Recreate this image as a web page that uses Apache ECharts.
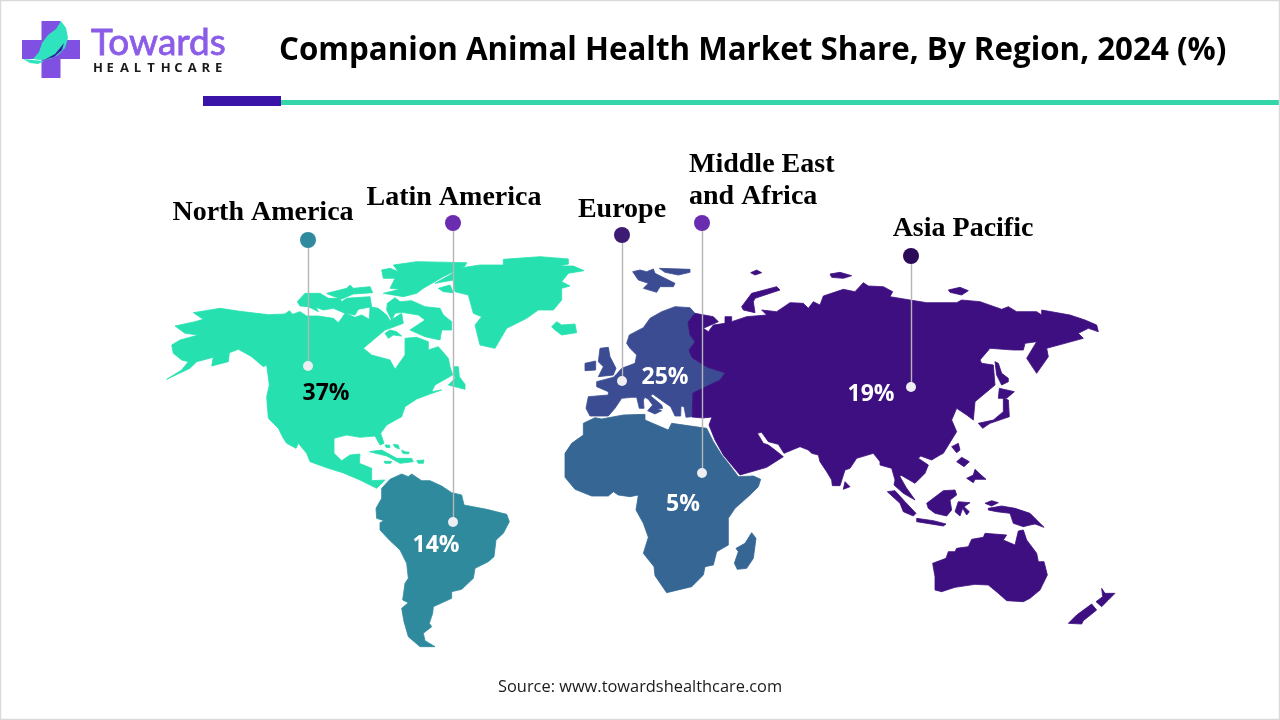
<!DOCTYPE html>
<html>
<head>
<meta charset="utf-8">
<title>Companion Animal Health Market Share</title>
<script src="https://cdn.jsdelivr.net/npm/echarts@6/dist/echarts.min.js"></script>
<style>
  html, body { margin: 0; padding: 0; background: #fff; }
  #chart { width: 1280px; height: 720px; }
</style>
</head>
<body>
<div id="chart"></div>
<script>
// values
const regionNames = ["North America", "Latin America", "Europe", "Middle East and Africa", "Asia Pacific"];
const regionShares = [37, 14, 25, 5, 19];
const regionLabels = ["North America", "Latin America", "Europe", "Middle East\nand Africa", "Asia Pacific"];

const titleText = "Companion Animal Health Market Share, By Region, 2024 (%)";
const sourceText = "Source: www.towardshealthcare.com";

const traced = (ox, oy, pts) => pts.map(([x, y]) => [ox + x / 3, -(oy + y / 3)]);

const northAmericaOutline = [
  [
    ...traced(160, 250, [[100,188],[180,175],[240,184],[290,190],[325,194],[375,192],[388,182]]),
    ...traced(290, 280, [[8,103],[30,95],[50,108],[85,108],[130,115],[145,128],[155,115],[165,100],[195,112],[215,105],[238,118],[240,80],[265,85],[290,105],[300,122],[335,100],[340,130],[300,145],[285,150],[220,205],[245,225],[300,240],[315,268],[345,225],[345,175],[380,172],[415,185],[415,210],[445,200]]),
    ...traced(160, 250, [[865,325],[870,350],[878,375],[825,405],[815,425],[845,420],[810,432],[770,447],[735,470],[725,500],[680,525],[662,550],[672,580],[660,585],[645,558],[600,562],[560,555],[522,565],[522,610],[545,632],[570,615],[600,612],[598,640],[635,655],[635,692],[675,690],[650,715],[600,690],[548,668],[505,655],[450,635],[440,610],[415,580],[408,595],[380,580],[370,565],[355,535],[325,505],[320,440],[328,405],[320,345],[310,350],[275,320],[235,298],[208,308],[205,335],[155,348],[160,322],[110,335],[90,355],[20,388],[65,360],[85,335],[65,330],[40,310],[35,285],[60,270],[115,255],[75,250],[45,228],[105,215],[130,208]]),
  ],
  traced(290, 280, [[22,65],[45,40],[90,40],[115,55],[150,55],[155,65],[170,55],[240,50],[245,80],[205,88],[195,105],[165,100],[130,85],[100,90],[78,82],[85,95],[55,80],[30,78]]),
  traced(290, 280, [[110,40],[170,25],[180,15],[190,25],[240,20],[248,38],[190,42],[155,57],[125,47]]),
  traced(290, 280, [[290,90],[292,70],[315,53],[330,65],[365,62],[405,80],[450,85],[460,105],[485,125],[485,150],[455,150],[450,180],[405,170],[360,150],[405,120],[385,105],[335,97],[315,100],[305,120]]),
  traced(290, 280, [[285,160],[300,150],[320,155],[335,168],[310,165],[295,175]]),
  traced(160, 250, [[700,45],[770,35],[920,38],[915,48],[850,80],[790,115],[770,130],[730,140],[670,130],[720,118],[690,115],[705,85],[670,85],[665,60],[690,55],[715,65]]),
  traced(160, 250, [[1030,28],[1140,20],[1225,27],[1225,42],[1195,48],[1240,48],[1272,62],[1225,70],[1205,95],[1230,108],[1205,115],[1205,150],[1180,180],[1135,180],[1100,205],[1040,235],[1005,295],[960,285],[945,225],[965,200],[940,190],[925,135],[885,125],[880,90],[825,100],[870,75],[895,55],[960,45],[1030,45]]),
  traced(160, 250, [[835,115],[870,105],[880,128],[850,125]]),
  traced(160, 250, [[1175,230],[1190,215],[1205,225],[1245,222],[1250,248],[1205,255],[1185,240]]),
  traced(160, 250, [[880,350],[895,350],[898,380],[915,403],[915,418],[865,405],[885,385]]),
  traced(160, 250, [[628,605],[665,600],[710,625],[755,625],[760,635],[720,640],[680,618]]),
  traced(160, 250, [[675,585],[688,585],[690,593],[678,592]]),
  traced(160, 250, [[700,583],[715,585],[718,597],[705,592]]),
  traced(160, 250, [[725,600],[735,605],[748,607],[745,612],[728,610]]),
  traced(160, 250, [[770,632],[792,630],[790,640],[775,640]]),
  traced(160, 250, [[672,634],[695,634],[692,640],[675,640]])
];

const latinAmericaOutline = [
  traced(340, 450, [[125,115],[150,88],[185,72],[205,80],[215,72],[245,92],[270,92],[305,108],[335,128],[365,135],[372,165],[440,178],[500,193],[508,215],[490,250],[468,270],[462,320],[445,335],[405,355],[400,385],[365,418],[335,425],[335,445],[280,470],[278,490],[268,520],[275,530],[250,550],[255,572],[285,590],[240,590],[205,560],[192,515],[185,475],[205,458],[188,450],[195,400],[205,385],[200,340],[180,300],[148,270],[120,240],[120,218],[132,212],[110,205],[108,175],[125,145]])
];

const europeOutline = [
  [
    ...traced(550, 255, [[230,265],[238,240],[280,218],[300,190],[335,170],[375,155],[420,158],[435,175],[415,200],[420,240],[435,262],[418,285],[425,310],[470,335],[525,355],[510,375],[430,415]]),
    ...traced(580, 340, [[335,230],[318,232],[312,200],[303,198],[302,228],[285,228],[272,200],[250,185],[218,162],[212,168],[245,195],[248,205],[232,207],[245,212],[225,222],[203,212],[218,195],[205,178],[195,172],[190,180],[192,205],[178,205],[170,172],[155,172],[125,175],[105,205],[85,228],[30,228],[18,205],[25,170],[85,165],[85,155],[50,140],[50,125],[100,112],[112,100],[125,85],[165,70],[170,45],[150,25]]),
  ],
  traced(580, 340, [[60,25],[85,22],[90,50],[108,85],[100,105],[55,110],[70,80],[55,65]]),
  traced(580, 340, [[15,70],[47,63],[47,90],[15,92]]),
  traced(550, 255, [[248,50],[270,45],[290,50],[310,42],[315,55],[375,85],[370,95],[330,95],[320,112],[280,100],[295,85],[265,75]]),
  traced(550, 255, [[328,40],[420,43],[420,52],[385,60],[345,52]])
];

const africaOutline = [
  traced(550, 430, [[100,-20],[135,-37],[155,-33],[220,-45],[285,-47],[285,-30],[355,0],[365,-20],[470,-5],[490,35],[515,75],[535,100],[565,140],[610,138],[632,148],[625,170],[600,195],[555,235],[535,265],[535,345],[500,365],[490,405],[465,410],[460,435],[425,470],[350,488],[315,437],[312,410],[280,370],[295,322],[280,280],[258,240],[265,195],[240,200],[205,195],[190,185],[175,198],[125,198],[75,178],[45,142],[45,70],[65,40],[100,15]]),
  traced(550, 430, [[605,308],[618,325],[610,385],[590,415],[562,418],[553,400],[565,365],[558,355],[585,340]])
];

const asiaOutline = [
  [
    ...traced(680, 260, [[45,160],[24,186],[30,225],[45,246],[27,270],[36,294],[81,321],[135,339],[120,360],[39,399],[36,471],[69,474],[96,471],[87,495],[105,540],[130,585],[180,645],[260,622],[310,590],[285,570],[265,555],[250,550],[232,520],[245,517],[265,545],[295,553],[312,580]]),
    ...traced(800, 430, [[0,50],[25,60],[35,70],[55,75],[60,95],[80,125],[95,150],[97,167],[120,167],[135,120],[150,115],[170,85],[220,70],[240,95],[240,105],[275,115],[285,150],[282,165],[310,190],[345,210],[318,172],[300,140],[302,135],[345,160],[375,130],[385,105],[355,85],[362,78],[395,90],[420,75]]),
    ...traced(680, 260, [[790,580],[830,515],[815,480],[830,445],[860,465],[880,480],[885,425],[945,375],[940,315],[905,310],[900,300],[930,265],[1000,270],[1030,270],[1035,250],[1070,245],[1040,295],[1070,340],[1105,290],[1100,265],[1210,235],[1195,220],[1225,205],[1255,215],[1250,195],[1215,180],[1170,165],[1085,150],[1085,165],[1070,155],[1010,155],[985,140],[965,148],[900,125],[845,120],[830,128],[740,128],[690,120],[630,110],[638,95],[610,80],[565,78],[550,68],[525,95],[490,88],[430,108],[420,135],[400,125],[385,145],[370,130],[330,128],[290,155],[245,150],[260,165],[200,170],[155,185],[155,170],[135,170],[135,190],[100,195],[85,215],[70,205],[115,185],[100,170]])
  ],
  traced(680, 260, [[185,140],[215,100],[290,80],[300,90],[225,115],[220,125],[225,158],[190,150]]),
  traced(680, 260, [[212,38],[230,30],[245,38],[225,45]]),
  traced(680, 260, [[450,42],[480,37],[515,47],[490,55],[455,52]]),
  traced(680, 260, [[805,90],[840,82],[865,92],[845,105],[810,97]]),
  traced(680, 260, [[945,305],[955,310],[965,340],[985,355],[985,365],[965,375],[950,345]]),
  traced(680, 260, [[958,385],[1003,395],[980,415],[955,415]]),
  traced(680, 260, [[970,415],[985,420],[988,470],[930,490],[908,505],[895,490],[940,480],[970,455]]),
  traced(680, 260, [[815,560],[835,550],[840,570],[830,578]]),
  traced(800, 430, [[135,155],[150,170],[130,178]]),
  traced(860, 450, [[290,35],[305,22],[328,35],[312,50]]),
  traced(860, 450, [[320,85],[340,75],[345,58],[360,72],[378,88],[345,88],[340,98]]),
  traced(860, 450, [[82,125],[105,122],[135,155],[168,190],[160,198],[130,185],[120,160]]),
  traced(860, 450, [[170,205],[220,212],[258,222],[250,228],[170,215]]),
  traced(860, 450, [[200,160],[250,122],[285,120],[290,135],[270,150],[275,180],[260,198],[225,190],[205,175]]),
  traced(860, 450, [[285,185],[295,155],[330,158],[312,170],[328,185],[320,195],[308,175],[300,198]]),
  traced(860, 450, [[385,175],[425,168],[465,175],[510,190],[552,232],[525,222],[510,225],[490,230],[460,220],[450,190],[410,185],[385,180]]),
  traced(860, 450, [[375,160],[395,152],[415,158],[395,168]]),
  traced(860, 450, [[218,340],[258,325],[265,305],[285,305],[290,295],[325,290],[335,268],[370,262],[375,250],[440,255],[430,270],[465,285],[475,243],[490,240],[500,270],[530,310],[535,335],[552,335],[562,375],[540,420],[510,445],[490,455],[440,452],[415,430],[385,405],[345,403],[285,412],[245,425],[225,420],[225,380]]),
  traced(860, 450, [[725,415],[735,430],[765,430],[745,450],[725,470],[708,455],[728,440]]),
  traced(860, 450, [[695,462],[710,480],[670,512],[665,522],[625,520],[650,495]])
];

const regionOutlines = [northAmericaOutline, latinAmericaOutline, europeOutline, africaOutline, asiaOutline];

echarts.registerMap("regions", {
  type: "FeatureCollection",
  features: regionNames.map((name, i) => ({
    type: "Feature",
    properties: { name: name },
    geometry: { type: "MultiPolygon", coordinates: regionOutlines[i].map((ring) => [ring]) },
  })),
});

// layout in picture pixels, y is negated because the map runs north-up
const px = (x, y) => [x, -y];
const regionColors = ["#26E1AF", "#2F8A9E", "#3B4C93", "#356694", "#3D0F80"];
const headColors = ["#2F8A9E", "#6A2DB0", "#3E1B72", "#6A2DB0", "#2B0A5A"];
const headPoints = [px(308, 240), px(453, 223), px(622, 235), px(702, 223), px(911, 256)];
const endPoints = [px(308, 366), px(453, 522), px(622, 381), px(702, 473), px(911, 387)];
const sharePoints = [px(326, 393), px(436, 545), px(665, 377), px(683, 504), px(871, 394)];
const labelPoints = [px(263, 213), px(454, 198), px(622, 210), px(689, 181), px(963, 229)];

const myChart = echarts.init(document.getElementById("chart"), null, { renderer: "canvas" });

const logoPurple = "#7F50E2";
const logoTeal = "#2FE3BF";
const logoLetters = "HEALTHCARE".split("").map((letter, i) => ({
  type: "text",
  x: 93 + i * 13.55,
  y: 68,
  style: {
    text: letter,
    fill: "#1a1a1a",
    font: "bold 13px 'Open Sans'",
    verticalAlign: "middle",
    align: "left",
  },
}));

const options = {
  animation: false,
  backgroundColor: "#fff",
  title: [
    {
      text: titleText,
      left: 274,
      top: 31,
      textStyle: { fontFamily: "Open Sans", fontWeight: "bold", fontSize: 31.3, color: "#000" },
    },
    {
      text: sourceText,
      left: 493,
      top: 674,
      textStyle: { fontFamily: "Open Sans", fontWeight: "normal", fontSize: 16.4, color: "#1a1a1a" },
    },
  ],
  geo: {
    map: "regions",
    roam: false,
    silent: true,
    aspectScale: 1,
    boundingCoords: [[0, 0], [1280, -720]],
    layoutCenter: ["50%", "50%"],
    layoutSize: 1280,
    label: { show: false },
    itemStyle: { borderWidth: 0 },
    regions: regionNames.map((name, i) => ({
      name: name,
      itemStyle: { areaColor: regionColors[i], borderColor: regionColors[i], borderWidth: 0.8 },
    })),
  },
  series: [
    {
      name: "Share",
      type: "map",
      geoIndex: 0,
      silent: true,
      data: regionNames.map((name, i) => ({ name: name, value: regionShares[i] })),
    },
    {
      name: "Leaders",
      type: "lines",
      coordinateSystem: "geo",
      silent: true,
      symbol: "none",
      lineStyle: { color: "#B6B6B6", width: 1.4, opacity: 1, curveness: 0 },
      data: regionNames.map((name, i) => ({ coords: [headPoints[i], endPoints[i]] })),
      z: 3,
    },
    {
      name: "Heads",
      type: "scatter",
      coordinateSystem: "geo",
      silent: true,
      symbolSize: 16,
      data: regionNames.map((name, i) => ({ value: headPoints[i], itemStyle: { color: headColors[i], opacity: 1 } })),
      z: 4,
    },
    {
      name: "Ends",
      type: "scatter",
      coordinateSystem: "geo",
      silent: true,
      symbolSize: 10,
      itemStyle: { color: "#EEEEF2", opacity: 1 },
      data: endPoints,
      z: 4,
    },
    {
      name: "Share labels",
      type: "scatter",
      coordinateSystem: "geo",
      silent: true,
      symbolSize: 0,
      itemStyle: { opacity: 1 },
      data: regionNames.map((name, i) => ({
        value: sharePoints[i],
        share: regionShares[i],
        label: { color: i === 0 ? "#000" : "#fff" },
      })),
      label: {
        show: true,
        position: "inside",
        formatter: (p) => p.data.share + "%",
        fontFamily: "Open Sans",
        fontWeight: "bold",
        fontSize: 23,
      },
      z: 5,
    },
    {
      name: "Region labels",
      type: "scatter",
      coordinateSystem: "geo",
      silent: true,
      symbolSize: 0,
      itemStyle: { opacity: 1 },
      data: regionNames.map((name, i) => ({
        value: labelPoints[i],
        text: regionLabels[i],
        label: i === 3 ? { align: "left", position: "right", distance: 0 } : {},
      })),
      label: {
        show: true,
        position: "inside",
        formatter: (p) => p.data.text,
        fontFamily: "Liberation Serif",
        fontWeight: "bold",
        fontSize: 28,
        lineHeight: 32,
        color: "#000",
      },
      z: 5,
    },
  ],
  graphic: [
    // page border
    { type: "rect", shape: { x: 0.5, y: 0.5, width: 1279, height: 719 }, style: { fill: "none", stroke: "#DADADA", lineWidth: 1.5 }, z: 10 },
    // header rule
    { type: "rect", shape: { x: 281, y: 100, width: 998, height: 5 }, style: { fill: "#33D6A8" } },
    { type: "rect", shape: { x: 203, y: 96, width: 78, height: 10 }, style: { fill: "#3A14A8" } },
    // logo
    { type: "rect", shape: { x: 41.5, y: 21, width: 19, height: 57 }, style: { fill: logoPurple } },
    { type: "rect", shape: { x: 22, y: 40, width: 58, height: 19 }, style: { fill: logoPurple } },
    {
      type: "polygon",
      shape: { points: [[61,21],[66,28],[68,38],[65,48],[58,55],[50,59],[40,60],[33,59],[39,52],[42,43],[48,35],[56,29]] },
      style: { fill: logoTeal },
    },
    {
      type: "polygon",
      shape: { points: [[64,43],[62,50],[54,57],[44,60],[55,54],[60,48]] },
      style: { fill: "#3A1FA0" },
    },
    {
      type: "polygon",
      shape: { points: [[23,59],[33,60],[44,61],[38,64],[30,63]] },
      style: { fill: logoTeal },
    },
    {
      type: "text",
      x: 91,
      y: 43,
      style: { text: "Towards", fill: "#8A5CE8", stroke: "#8A5CE8", lineWidth: 0.8, font: "37px Lato", verticalAlign: "middle", align: "left" },
    },
    ...logoLetters,
  ],
};

myChart.setOption(options);
</script>
</body>
</html>
